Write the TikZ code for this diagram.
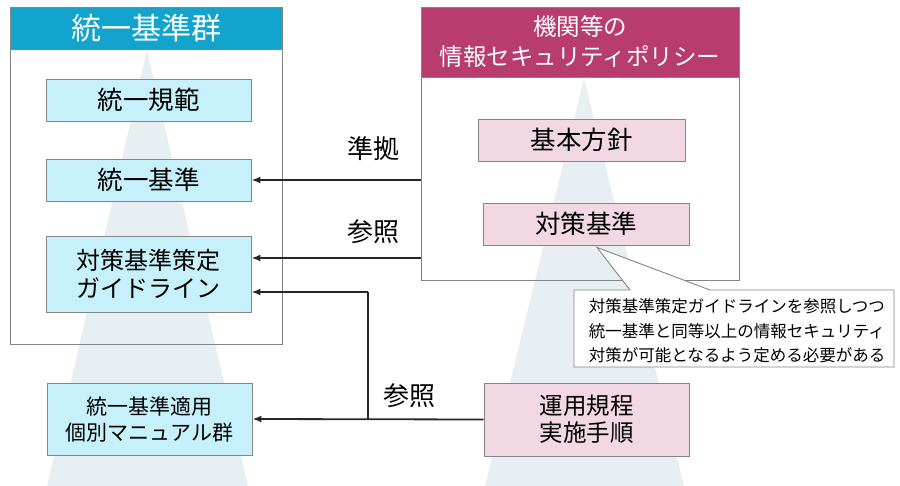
\documentclass[tikz,border=0pt]{standalone}
\usepackage{fontspec}
\setmainfont{Noto Sans CJK JP}
\usetikzlibrary{arrows.meta}
\definecolor{hdblue}{HTML}{12A4CD}
\definecolor{hdred}{HTML}{B83D6E}
\definecolor{bxblue}{HTML}{C6F1FB}
\definecolor{bxpink}{HTML}{F2D8E2}
\definecolor{tri}{HTML}{E7EFF3}
\definecolor{edge}{HTML}{858585}
\newcommand{\fs}[2]{\fontsize{#1}{#2}\selectfont}
\tikzset{
  frm/.style={draw=edge, line width=0.9pt, inner sep=0pt},
  hd/.style={frm, text=white, align=center},
  bx/.style={frm, align=center, minimum width=205pt},
  lbl/.style={inner sep=0pt, font=\fs{26}{30}},
  arr/.style={-{Latex[length=9pt,width=7pt]}, line width=1.8pt, draw=black!85},
}
\begin{document}
\begin{tikzpicture}[x=1pt,y=-1pt]
  \useasboundingbox (0,0) rectangle (900,486);
  \fill[tri] (147,50) -- (248,486) -- (47,486) -- cycle;
  \fill[tri] (584,78) -- (684,486) -- (485,486) -- cycle;
  \draw
    (146,196.5) node[frm, minimum width=272pt, minimum height=295pt] (lf){}
    (146,28) node[hd, fill=hdblue, minimum width=272pt, minimum height=42pt, font=\fs{30}{32}] (lh){統一基準群}
    (148.5,100) node[bx, fill=bxblue, minimum height=42pt, font=\fs{25.5}{28}] (kihan){統一規範}
    (148.5,180) node[bx, fill=bxblue, minimum height=42pt, font=\fs{25.5}{28}] (kijun){統一基準}
    (148.5,274) node[bx, fill=bxblue, minimum height=76pt, font=\fs{24}{28}] (guide){対策基準策定\\ガイドライン}
    (149.5,419) node[bx, fill=bxblue, minimum height=72pt, font=\fs{21}{26}] (manual){統一基準適用\\個別マニュアル群}
    (580,178.5) node[frm, minimum width=318pt, minimum height=203pt] (rf){}
    (580,42) node[hd, fill=hdred, minimum width=318pt, minimum height=70pt, font=\fs{23.5}{30}] (rh){機関等の\\情報セキュリティポリシー}
    (581.5,140) node[bx, fill=bxpink, minimum width=207pt, minimum height=42pt, font=\fs{25.5}{28}] (kihon){基本方針}
    (586,224) node[bx, fill=bxpink, minimum width=206pt, minimum height=42pt, font=\fs{25.5}{28}] (taisaku){対策基準}
    (586.5,419.5) node[bx, fill=bxpink, minimum height=73pt, font=\fs{23.5}{27}] (unyo){運用規程\\実施手順}
    (373,149) node[lbl] (junkyo){準拠}
    (373,232) node[lbl] (sansho){参照}
    (409,396) node[lbl] (sansho2){参照};
  \coordinate (tip) at ([xshift=11pt,yshift=-2pt]taisaku.south);
  \coordinate (jn) at (368,419);
  \filldraw[draw=edge, fill=white, line width=0.9pt]
    (574,290) -- (630,290) -- (tip) -- (710,290) -- (894,290) -- (894,367) -- (574,367) -- cycle;
  \node[align=left, inner sep=0pt, font=\fs{16.5}{24.5}] (note) at (737,331)
    {対策基準策定ガイドラインを参照しつつ\\統一基準と同等以上の情報セキュリティ\\対策が可能となるよう定める必要がある};
  \begin{scope}[arr]
    \draw (rf.west |- kijun) -- (kijun.east);
    \draw (rf.west |- 0,258) -- ([yshift=16pt]guide.east);
    \draw (unyo.west) -- (manual.east);
    \draw[-] (jn) -- (jn |- 0,292);
    \draw (jn |- 0,292) -- ([yshift=-18pt]guide.east);
  \end{scope}
\end{tikzpicture}
\end{document}
